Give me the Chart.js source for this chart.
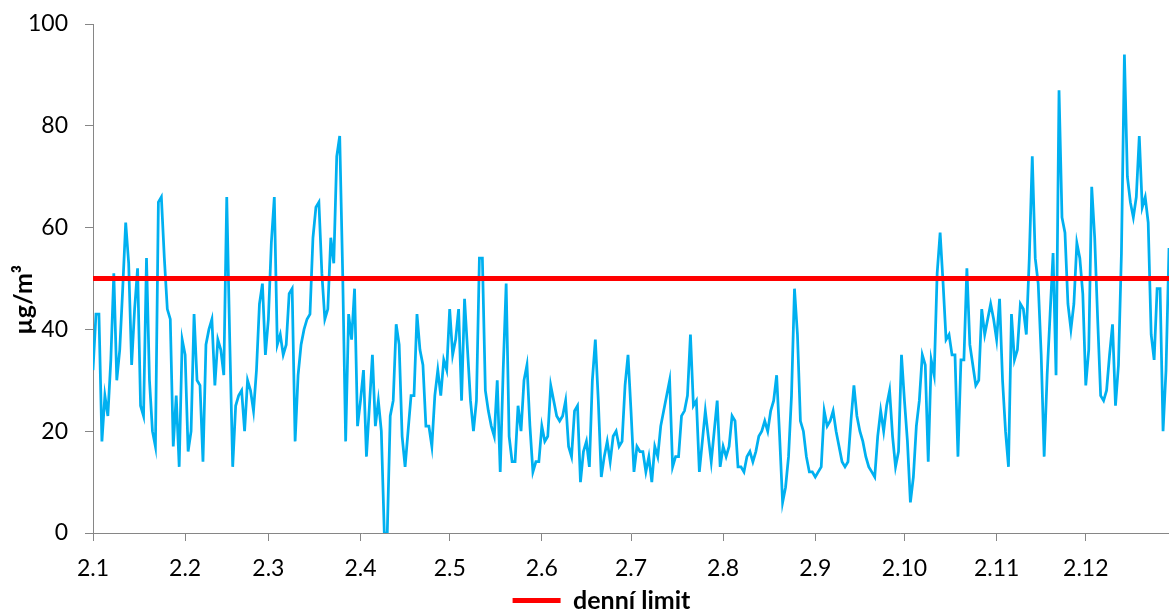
<!DOCTYPE html>
<html>
<head>
<meta charset="utf-8">
<script src="https://cdn.jsdelivr.net/npm/chart.js@4.4.0/dist/chart.umd.min.js"></script>
<style>
  html, body { margin: 0; padding: 0; background: #fff; }
  #wrap { width: 1169px; height: 611px; }
</style>
</head>
<body>
<div id="wrap"><canvas id="chart" width="1169" height="611"></canvas></div>
<script>
// den (index od 2.1.) na kterém je popisek měsíce
const monthTicks = [0, 31, 59, 90, 120, 151, 181, 212, 243, 273, 304, 334];
const monthLabels = ["2.1", "2.2", "2.3", "2.4", "2.5", "2.6", "2.7", "2.8", "2.9", "2.10", "2.11", "2.12"];

// denní průměry PM10, od 2.1.
const pm10 = [
	32, 43, 43, 18, 27, 23, 34, 51, 30, 36, 48, 61, 53, 33, 44, 52, 25, 23, 54, 30, 20, 17, 65, 66, 54, 44, 42, 17, 27, 13, 38,
	35, 16, 20, 43, 30, 29, 14, 37, 40, 42, 29, 38, 36, 31, 66, 38, 13, 25, 27, 28, 20, 30, 28, 24, 32, 45, 49, 35,
	42, 57, 66, 37, 39, 35, 37, 47, 48, 18, 31, 37, 40, 42, 43, 58, 64, 65, 51, 42, 44, 58, 53, 74, 78, 51, 18, 43, 38, 48, 21,
	26, 32, 15, 25, 35, 21, 26, 20, 0, 0, 23, 26, 41, 37, 19, 13, 20, 27, 27, 43, 36, 33, 21, 21, 17, 27, 32, 27, 34, 32,
	44, 35, 38, 44, 26, 46, 36, 26, 20, 26, 54, 54, 28, 24, 21, 19, 30, 12, 32, 49, 19, 14, 14, 25, 20, 30, 33, 21, 12, 14, 14,
	21, 18, 19, 29, 26, 23, 22, 23, 26, 17, 15, 24, 25, 10, 16, 18, 13, 30, 38, 26, 11, 15, 18, 14, 19, 20, 17, 18, 29, 35,
	24, 12, 17, 16, 16, 12, 15, 10, 17, 15, 21, 24, 27, 30, 13, 15, 15, 23, 24, 27, 39, 25, 26, 12, 18, 24, 19, 14, 20, 26, 13,
	17, 15, 17, 23, 22, 13, 13, 12, 15, 16, 14, 16, 19, 20, 22, 20, 24, 26, 31, 19, 6, 9, 15, 27, 48, 39, 22, 20, 15, 12, 12,
	11, 12, 13, 24, 21, 22, 24, 20, 17, 14, 13, 14, 22, 29, 23, 20, 18, 15, 13, 12, 11, 19, 24, 20, 25, 28, 19, 13, 16, 35,
	26, 18, 6, 11, 21, 26, 35, 33, 14, 34, 31, 51, 59, 49, 38, 39, 35, 35, 15, 34, 34, 52, 37, 33, 29, 30, 44, 39, 42, 45, 42,
	38, 46, 30, 20, 13, 43, 34, 36, 45, 44, 39, 54, 74, 54, 49, 35, 15, 31, 43, 55, 31, 87, 62, 59, 45, 40, 45, 57, 54, 47,
	29, 36, 68, 58, 42, 27, 26, 28, 35, 41, 25, 33, 55, 94, 70, 65, 62, 66, 78, 64, 66, 61, 39, 34, 48, 48, 20, 32, 56,
];

const limitValue = 50;
const limitLabel = "denní limit";
const yTitle = "µg/m³";

const axisColor = "#868686";
const lastDay = pm10.length - 1;

// posune legendu doprava a dolů, jako v originále
const legendShift = {
	id: "legendShift",
	afterLayout(chart) {
		const lg = chart.legend;
		lg.left += 17;
		lg.right += 17;
		lg.top += 5;
		lg.bottom += 5;
	},
};

const ctx = document.getElementById("chart").getContext("2d");
const chart = new Chart(ctx, {
	type: "line",
	data: {
		datasets: [
			{
				label: limitLabel,
				data: [
					{ x: 0, y: limitValue },
					{ x: lastDay, y: limitValue },
				],
				borderColor: "#FF0000",
				backgroundColor: "#FF0000",
				borderWidth: 5,
				pointRadius: 0,
				order: 0,
			},
			{
				label: "PM10",
				data: pm10.map((v, i) => ({ x: i, y: v })),
				borderColor: "#00B0F0",
				borderWidth: 2.75,
				pointRadius: 0,
				tension: 0,
				order: 1,
			},
		],
	},
	options: {
		responsive: false,
		animation: false,
		layout: {
			padding: { top: 24, right: 0, left: 0, bottom: 0 },
		},
		plugins: {
			tooltip: { enabled: false },
			legend: {
				position: "bottom",
				maxHeight: 28,
				labels: {
					boxWidth: 48,
					boxHeight: 5,
					padding: 0,
					color: "#000",
					font: { family: "Lato", size: 25, weight: "bold" },
					generateLabels: () => [
						{
							text: limitLabel,
							fillStyle: "#FF0000",
							strokeStyle: "#FF0000",
							lineWidth: 0,
							datasetIndex: 0,
						},
					],
				},
			},
		},
		scales: {
			x: {
				type: "linear",
				min: 0,
				max: lastDay,
				afterBuildTicks: (axis) => {
					axis.ticks = monthTicks.map((v) => ({ value: v }));
				},
				afterFit: (axis) => {
					axis.height = 50;
				},
				ticks: {
					autoSkip: false,
					maxRotation: 0,
					padding: 14,
					color: "#000",
					font: { family: "Lato", size: 23 },
					callback: (v) => monthLabels[monthTicks.indexOf(v)],
				},
				grid: { drawOnChartArea: false, tickLength: 8, color: axisColor },
				border: { color: axisColor },
			},
			y: {
				min: 0,
				max: 100,
				afterFit: (axis) => {
					axis.width = 93;
					axis.paddingTop = 0;
					axis.paddingBottom = 0;
				},
				ticks: {
					stepSize: 20,
					padding: 17,
					color: "#000",
					font: { family: "Lato", size: 23 },
				},
				grid: { drawOnChartArea: false, tickLength: 8, color: axisColor },
				border: { color: axisColor },
				title: {
					display: true,
					text: yTitle + "       ",
					color: "#000",
					padding: { top: 9, bottom: 0 },
					font: { family: "Lato", size: 25, weight: "bold" },
				},
			},
		},
	},
	plugins: [legendShift],
});
</script>
</body>
</html>
